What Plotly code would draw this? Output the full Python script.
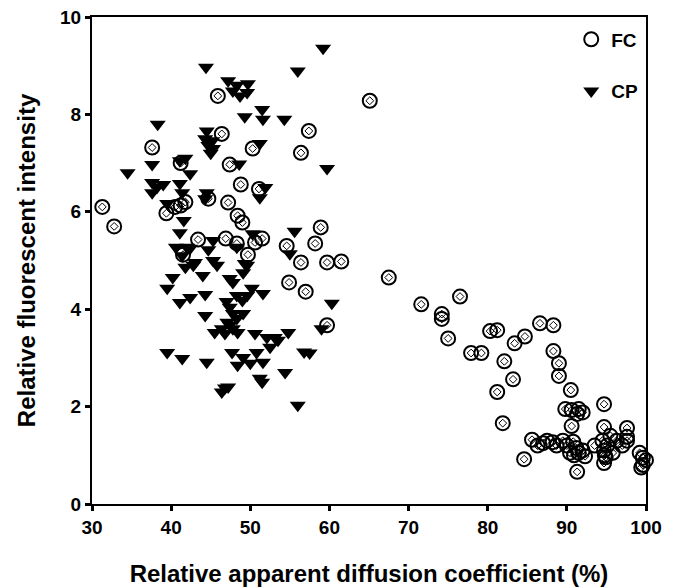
import plotly.graph_objects as go

# FC series (open circle with diamond)
fc_x = [31.3, 32.8, 37.6, 39.4, 40.5, 41.2, 41.8, 41.5, 41.2, 43.4, 44.7, 45.9, 46.4, 46.9,
        47.2, 47.4, 48.3, 48.4, 48.8, 49.0, 49.7, 50.3, 50.6, 51.1, 51.5, 54.6, 54.9, 56.4,
        57.4, 58.9, 58.2, 56.4, 57.0, 59.7, 61.5, 59.7, 65.1, 67.5,
        71.6, 74.2, 74.2, 75.0, 76.5, 77.9, 79.2, 80.3, 81.2, 81.2, 82.1, 81.9, 83.2, 83.4,
        84.7, 84.6, 86.6, 88.3, 88.3, 89.0, 89.0, 90.5, 94.7,
        89.8, 90.6, 91.3, 92.0, 91.5, 90.6, 94.7, 97.6, 85.6, 86.3, 87.0, 87.5, 88.2, 88.7,
        89.5, 90.0, 90.4, 90.8, 90.9, 91.2, 91.5, 92.0, 92.3, 91.3, 93.5, 94.5, 94.7, 94.9,
        95.1, 95.5, 95.8, 96.3, 94.7, 94.8, 97.6, 97.6, 97.0, 99.2, 99.6, 99.6, 99.4, 100.0]
fc_y = [6.10, 5.70, 7.32, 5.97, 6.10, 6.13, 6.20, 5.12, 7.00, 5.43, 6.27, 8.38, 7.60, 5.45,
        6.19, 6.97, 5.35, 5.92, 6.56, 5.78, 5.12, 7.30, 5.37, 6.47, 5.45, 5.30, 4.55, 7.21,
        7.66, 5.68, 5.35, 4.96, 4.36, 4.96, 4.98, 3.67, 8.28, 4.65,
        4.10, 3.90, 3.80, 3.40, 4.26, 3.10, 3.10, 3.55, 3.57, 2.30, 2.93, 1.66, 2.56, 3.30,
        3.44, 0.92, 3.71, 3.67, 3.14, 2.89, 2.63, 2.34, 2.05,
        1.95, 1.93, 1.85, 1.88, 1.95, 1.60, 1.58, 1.56, 1.32, 1.20, 1.25, 1.30, 1.27, 1.20,
        1.30, 1.20, 1.05, 1.28, 1.00, 1.15, 1.05, 1.10, 0.98, 0.66, 1.20, 1.30, 1.10, 0.96,
        1.20, 1.40, 1.05, 1.30, 0.84, 1.00, 1.38, 1.30, 1.20, 1.05, 0.95, 0.80, 0.75, 0.90]

# CP series (filled down triangle)
cp_x = [44.4, 47.2, 48.3, 49.7, 47.8, 48.7, 49.6, 49.3, 51.5, 51.6, 54.3, 38.3,
        44.5, 44.3, 45.2, 44.7, 45.3, 45.0, 51.2, 37.6, 41.1, 41.8, 48.6, 34.5, 42.4,
        37.6, 39.0, 37.6, 38.2, 41.1, 41.4, 44.5, 44.3, 51.9, 51.2, 39.5, 56.0, 59.2,
        59.7, 55.6, 55.0, 60.3,
        41.6, 41.1, 40.6, 42.0, 41.4, 42.4, 45.3, 44.7, 41.8, 43.0, 42.8, 45.3, 45.8,
        44.0, 40.2, 39.5, 47.4, 47.8, 49.3, 49.1, 50.2, 49.6, 51.6, 48.3, 49.0, 44.3,
        42.4, 41.1, 47.4, 47.8, 44.3, 49.1, 48.3, 47.1, 47.4, 46.4, 45.5, 47.8, 46.8,
        48.4, 50.6, 52.1, 53.1, 53.5, 52.5, 54.8, 47.7, 49.1, 50.8, 51.6, 50.0, 48.4,
        39.5, 41.4, 44.5, 54.4, 51.2, 51.5, 46.8, 46.4, 47.2, 50.3, 48.3, 49.6, 47.0,
        56.8, 57.5, 56.0, 59.0]
cp_y = [8.97, 8.69, 8.60, 8.63, 8.48, 8.38, 8.45, 7.95, 8.10, 7.90, 7.90, 7.80,
        7.66, 7.50, 7.46, 7.36, 7.30, 7.20, 7.40, 6.97, 7.05, 7.10, 6.98, 6.80, 6.78,
        6.60, 6.56, 6.39, 6.50, 6.58, 6.39, 6.39, 6.27, 6.50, 6.29, 6.17, 8.89, 9.36,
        6.89, 5.60, 5.14, 4.12,
        5.82, 5.57, 5.27, 5.27, 5.10, 5.25, 5.41, 5.22, 4.86, 4.96, 4.90, 5.00, 4.90,
        4.69, 4.65, 4.43, 4.63, 4.55, 4.94, 4.75, 4.43, 4.28, 4.32, 4.28, 4.18, 4.30,
        4.24, 4.14, 4.04, 3.91, 3.87, 3.91, 3.81, 3.73, 3.67, 3.60, 3.52, 3.60, 3.50,
        3.52, 3.50, 3.42, 3.42, 3.36, 3.22, 3.52, 3.11, 3.01, 3.11, 2.91, 2.89, 2.85,
        3.11, 2.99, 2.91, 2.70, 2.58, 2.50, 2.38, 2.30, 2.40, 5.55, 5.27, 4.90, 4.16,
        3.12, 3.10, 2.03, 3.60]

x_ticks = [30, 40, 50, 60, 70, 80, 90, 100]
y_ticks = [0, 2, 4, 6, 8, 10]

FONT = "Liberation Sans"

fig = go.Figure()
fig.add_trace(go.Scatter(
    x=fc_x, y=fc_y, mode="markers", name="FC", legendgroup="fc",
    marker=dict(symbol="circle-open", size=14, color="black", line=dict(width=2, color="black")),
    cliponaxis=False,
))
fig.add_trace(go.Scatter(
    x=fc_x, y=fc_y, mode="markers", name="FC", legendgroup="fc", showlegend=False,
    marker=dict(symbol="diamond-open", size=6, color="black", line=dict(width=1, color="black")),
    cliponaxis=False, hoverinfo="skip",
))
fig.add_trace(go.Scatter(
    x=cp_x, y=cp_y, mode="markers", name="CP", legendgroup="cp",
    marker=dict(symbol="triangle-down", size=14, color="black", line=dict(width=0)),
    cliponaxis=False,
))

axis_common = dict(
    showline=True, linecolor="black", linewidth=2, mirror=True,
    ticks="outside", ticklen=5, tickwidth=3, tickcolor="black",
    showgrid=False, zeroline=False, automargin=False,
    tickfont=dict(family=FONT, size=19, color="black", weight="bold"),
)

fig.update_xaxes(
    range=[30, 100], tickvals=x_ticks, ticktext=[str(v) for v in x_ticks],
    title=dict(text="Relative apparent diffusion coefficient (%)", standoff=28,
               font=dict(family=FONT, size=24, color="black", weight="bold")),
    **axis_common,
)
fig.update_yaxes(
    range=[0, 10], tickvals=y_ticks, ticktext=[str(v) for v in y_ticks],
    title=dict(text="Relative fluorescent intensity", standoff=18,
               font=dict(family=FONT, size=24, color="black", weight="bold")),
    **axis_common,
)

fig.update_layout(
    width=677, height=587,
    margin=dict(l=92, r=31, t=17, b=83, autoexpand=False),
    paper_bgcolor="white", plot_bgcolor="white",
    showlegend=True,
    legend=dict(x=0.995, y=0.993, xanchor="right", yanchor="top",
                bgcolor="rgba(0,0,0,0)", traceorder="grouped", tracegroupgap=24,
                font=dict(family=FONT, size=19, color="black", weight="bold"),
                itemwidth=30),
)

fig.write_html("out.html")
